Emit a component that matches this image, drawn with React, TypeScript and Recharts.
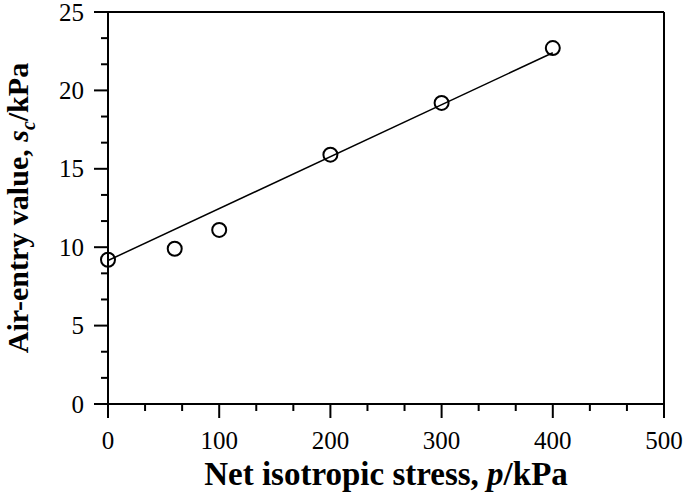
import React from 'react';
import { ScatterChart, Scatter, XAxis, YAxis, Label } from 'recharts';

// measured points (net isotropic stress p, air-entry value sc)
const stressKPa = [0, 60, 100, 200, 300, 400];
const airEntryKPa = [9.2, 9.9, 11.1, 15.9, 19.2, 22.7];

// fitted straight line, end points
const fitStress = [0, 400];
const fitAirEntry = [9.15, 22.4];

const xMajorTicks = [0, 100, 200, 300, 400, 500];
const yMajorTicks = [0, 5, 10, 15, 20, 25];

const FONT = '"Liberation Serif", "Times New Roman", serif';

// three minor divisions between each pair of major ticks
const withMinor = (major: number[]) => {
  const out: number[] = [];
  for (let i = 0; i < major.length - 1; i++) {
    const step = (major[i + 1] - major[i]) / 3;
    out.push(major[i], major[i] + step, major[i] + 2 * step);
  }
  out.push(major[major.length - 1]);
  return out;
};

const isMajor = (v: number, major: number[]) => major.some(m => Math.abs(m - v) < 1e-6);

const points = stressKPa.map((p, i) => ({ p, sc: airEntryKPa[i] }));
const fitLine = fitStress.map((p, i) => ({ p, sc: fitAirEntry[i] }));

const BottomTick = (props: any) => {
  const { x, y, payload } = props;
  const major = isMajor(payload.value, xMajorTicks);
  return (
    <g>
      <line x1={x} y1={y} x2={x} y2={y + (major ? 14 : 7)} stroke="#000" strokeWidth={2} />
      {major && (
        <text x={x} y={y + 45} textAnchor="middle" fontFamily={FONT} fontSize={25} fill="#000">
          {Math.round(payload.value)}
        </text>
      )}
    </g>
  );
};

const TopTick = (props: any) => {
  const { x, y, payload } = props;
  const major = isMajor(payload.value, xMajorTicks);
  return <line x1={x} y1={y} x2={x} y2={y + (major ? 14 : 7)} stroke="#000" strokeWidth={2} />;
};

const LeftTick = (props: any) => {
  const { x, y, payload } = props;
  const major = isMajor(payload.value, yMajorTicks);
  return (
    <g>
      <line x1={x} y1={y} x2={x - (major ? 14 : 7)} y2={y} stroke="#000" strokeWidth={2} />
      {major && (
        <text x={x - 24} y={y + 8.5} textAnchor="end" fontFamily={FONT} fontSize={25} fill="#000">
          {Math.round(payload.value)}
        </text>
      )}
    </g>
  );
};

const RightTick = (props: any) => {
  const { x, y, payload } = props;
  const major = isMajor(payload.value, yMajorTicks);
  return <line x1={x} y1={y} x2={x - (major ? 14 : 7)} y2={y} stroke="#000" strokeWidth={2} />;
};

const XTitle = ({ viewBox }: any) => {
  const cx = viewBox.x + viewBox.width / 2;
  return (
    <text x={cx} y={485} textAnchor="middle" fontFamily={FONT} fontSize={33} fontWeight="bold" fill="#000">
      Net isotropic stress, <tspan fontStyle="italic">p</tspan>/kPa
    </text>
  );
};

const YTitle = ({ viewBox }: any) => {
  const cy = viewBox.y + viewBox.height / 2;
  return (
    <text
      x={0}
      y={0}
      transform={`translate(28, ${cy}) rotate(-90)`}
      textAnchor="middle"
      fontFamily={FONT}
      fontSize={30}
      fontWeight="bold"
      fill="#000"
    >
      Air-entry value, <tspan fontStyle="italic">s</tspan>
      <tspan fontStyle="italic" fontSize={20} dy={7}>c</tspan>
      <tspan dy={-7}>/kPa</tspan>
    </text>
  );
};

const Circle = (props: any) => {
  const { cx, cy } = props;
  return <circle cx={cx} cy={cy} r={7} fill="none" stroke="#000" strokeWidth={2} />;
};

const NoShape = () => <g />;

export default function App() {
  const xTicks = withMinor(xMajorTicks);
  const yTicks = withMinor(yMajorTicks);
  return (
    <div style={{ position: 'absolute', left: 0, top: 0, background: '#fff' }}>
      <ScatterChart width={685} height={494} margin={{ top: 0, right: 0, bottom: 0, left: 0 }}>
        <XAxis
          type="number"
          dataKey="p"
          domain={[0, 500]}
          ticks={xTicks}
          interval={0}
          height={90}
          tickSize={0}
          tickMargin={0}
          tickLine={false}
          axisLine={{ stroke: '#000', strokeWidth: 2 }}
          tick={<BottomTick />}
          label={<Label content={XTitle} />}
        />
        <XAxis
          xAxisId="top"
          orientation="top"
          type="number"
          domain={[0, 500]}
          ticks={xTicks}
          interval={0}
          height={12}
          tickSize={0}
          tickMargin={0}
          tickLine={false}
          axisLine={{ stroke: '#000', strokeWidth: 2 }}
          tick={<TopTick />}
        />
        <YAxis
          type="number"
          dataKey="sc"
          domain={[0, 25]}
          ticks={yTicks}
          interval={0}
          width={108}
          tickSize={0}
          tickMargin={0}
          tickLine={false}
          axisLine={{ stroke: '#000', strokeWidth: 2 }}
          tick={<LeftTick />}
          label={<Label content={YTitle} />}
        />
        <YAxis
          yAxisId="right"
          orientation="right"
          type="number"
          domain={[0, 25]}
          ticks={yTicks}
          interval={0}
          width={21}
          tickSize={0}
          tickMargin={0}
          tickLine={false}
          axisLine={{ stroke: '#000', strokeWidth: 2 }}
          tick={<RightTick />}
        />
        <Scatter
          data={fitLine}
          line={{ stroke: '#000', strokeWidth: 1.5 }}
          shape={NoShape}
          isAnimationActive={false}
        />
        <Scatter data={points} shape={Circle} isAnimationActive={false} />
      </ScatterChart>
    </div>
  );
}
